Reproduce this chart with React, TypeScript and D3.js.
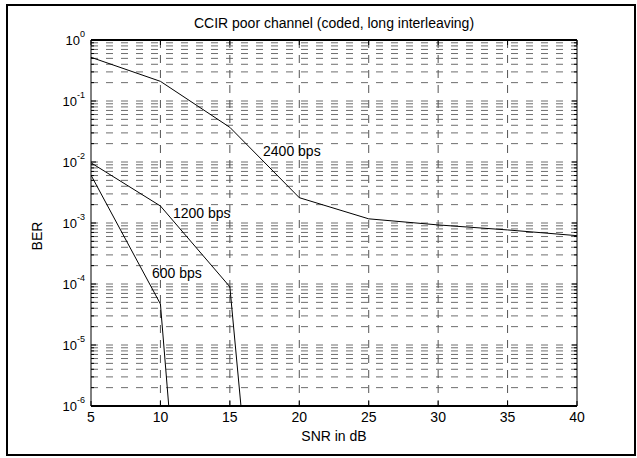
import React from "react";
import * as d3 from "d3";

const W = 637;
const H = 458;

// SNR (dB) and BER
const snr2400 = [5, 10, 15, 20, 25, 30, 35, 40];
const ber2400 = [0.52, 0.21, 0.037, 0.0026, 0.00117, 0.00093, 0.00077, 0.00062];
const snr1200 = [5, 10, 15, 15.8];
const ber1200 = [0.0097, 0.0019, 0.00009, 0.000001];
const snr600 = [5, 10, 10.6];
const ber600 = [0.0061, 0.000047, 0.000001];

const xTicks = [5, 10, 15, 20, 25, 30, 35, 40];
const yExps = [0, -1, -2, -3, -4, -5, -6];

const labels = [
  { text: "2400 bps", snr: 17.39, ber: 0.0126 },
  { text: "1200 bps", snr: 10.9, ber: 0.00121 },
  { text: "600 bps", snr: 9.39, ber: 0.000126 },
];

const FONT = "'Liberation Sans', Arial, Helvetica, sans-serif";

export default function App() {
  const left = 91, right = 577, top = 40, bottom = 406;
  const x = d3.scaleLinear().domain([5, 40]).range([left, right]);
  const y = d3.scaleLog().domain([1e-6, 1]).range([bottom, top]);

  const line = d3
    .line<[number, number]>()
    .x((d) => x(d[0]))
    .y((d) => y(d[1]));

  const series = [
    d3.zip(snr2400, ber2400),
    d3.zip(snr1200, ber1200),
    d3.zip(snr600, ber600),
  ] as [number, number][][];

  // minor + major horizontal grid values (inside the box)
  const hGrid: number[] = [];
  for (let e = -6; e < 0; e++) {
    for (let m = 1; m <= 9; m++) {
      const v = m * Math.pow(10, e);
      if (v > 1e-6 && v < 1) hGrid.push(v);
    }
  }
  const minorTicks: number[] = [];
  for (let e = -6; e < 0; e++) {
    for (let m = 2; m <= 9; m++) minorTicks.push(m * Math.pow(10, e));
  }

  return (
    <svg
      width={W}
      height={H}
      style={{ position: "absolute", left: 0, top: 0, background: "#fff" }}
      fontFamily={FONT}
    >
      <rect x={7} y={5} width={628} height={450} fill="#fff" stroke="#000" strokeWidth={2} />

      <clipPath id="plot">
        <rect x={left} y={top} width={right - left} height={bottom - top} />
      </clipPath>

      {/* grid */}
      <g>
        {hGrid.map((v, i) => (
          <line
            key={"h" + i}
            x1={left}
            x2={right}
            y1={y(v)}
            y2={y(v)}
            stroke="#6e6e6e"
            strokeWidth={1}
            strokeDasharray="7,8"
          />
        ))}
        {xTicks.slice(1, -1).map((t) => (
          <line
            key={"v" + t}
            x1={x(t)}
            x2={x(t)}
            y1={top}
            y2={bottom}
            stroke="#555"
            strokeWidth={1}
            strokeDasharray="8,7"
          />
        ))}
      </g>

      {/* ticks */}
      <g stroke="#000" strokeWidth={1}>
        {xTicks.map((t) => (
          <g key={"xt" + t}>
            <line x1={x(t)} x2={x(t)} y1={bottom} y2={bottom - 5} />
            <line x1={x(t)} x2={x(t)} y1={top} y2={top + 5} />
          </g>
        ))}
        {yExps.map((e) => (
          <g key={"yt" + e}>
            <line x1={left} x2={left + 5} y1={y(Math.pow(10, e))} y2={y(Math.pow(10, e))} />
            <line x1={right} x2={right - 5} y1={y(Math.pow(10, e))} y2={y(Math.pow(10, e))} />
          </g>
        ))}
        {minorTicks.map((v, i) => (
          <g key={"mt" + i}>
            <line x1={left} x2={left + 3} y1={y(v)} y2={y(v)} />
            <line x1={right} x2={right - 3} y1={y(v)} y2={y(v)} />
          </g>
        ))}
      </g>

      {/* curves */}
      <g clipPath="url(#plot)">
        {series.map((s, i) => (
          <path key={"s" + i} d={line(s) || ""} fill="none" stroke="#000" strokeWidth={1} />
        ))}
      </g>

      {/* axes box */}
      <line x1={left} x2={right} y1={top} y2={top} stroke="#000" strokeWidth={2} />
      <line x1={left} x2={right} y1={bottom} y2={bottom} stroke="#000" strokeWidth={2} />
      <line x1={left} x2={left} y1={top} y2={bottom} stroke="#000" strokeWidth={1} />
      <line x1={right} x2={right} y1={top} y2={bottom} stroke="#000" strokeWidth={1} />

      {/* curve labels */}
      {labels.map((l) => (
        <text key={l.text} x={x(l.snr)} y={y(l.ber)} fontSize={14} fill="#000">
          {l.text}
        </text>
      ))}

      {/* x tick labels */}
      {xTicks.map((t) => (
        <text key={"xl" + t} x={x(t)} y={422} fontSize={14} textAnchor="middle" fill="#000">
          {t}
        </text>
      ))}

      {/* y tick labels */}
      {yExps.map((e) => (
        <text
          key={"yl" + e}
          x={85}
          y={y(Math.pow(10, e)) + 5}
          fontSize={13}
          textAnchor="end"
          fill="#000"
        >
          <tspan>10</tspan>
          <tspan dy={-8} fontSize={9}>
            {e}
          </tspan>
        </text>
      ))}

      <text x={(left + right) / 2} y={28} fontSize={14} textAnchor="middle" fill="#000">
        CCIR poor channel (coded, long interleaving)
      </text>
      <text x={(left + right) / 2} y={441} fontSize={14} textAnchor="middle" fill="#000">
        SNR in dB
      </text>
      <text
        transform={`translate(42, ${(top + bottom) / 2 + 13}) rotate(-90)`}
        fontSize={14}
        textAnchor="middle"
        fill="#000"
      >
        BER
      </text>
    </svg>
  );
}
